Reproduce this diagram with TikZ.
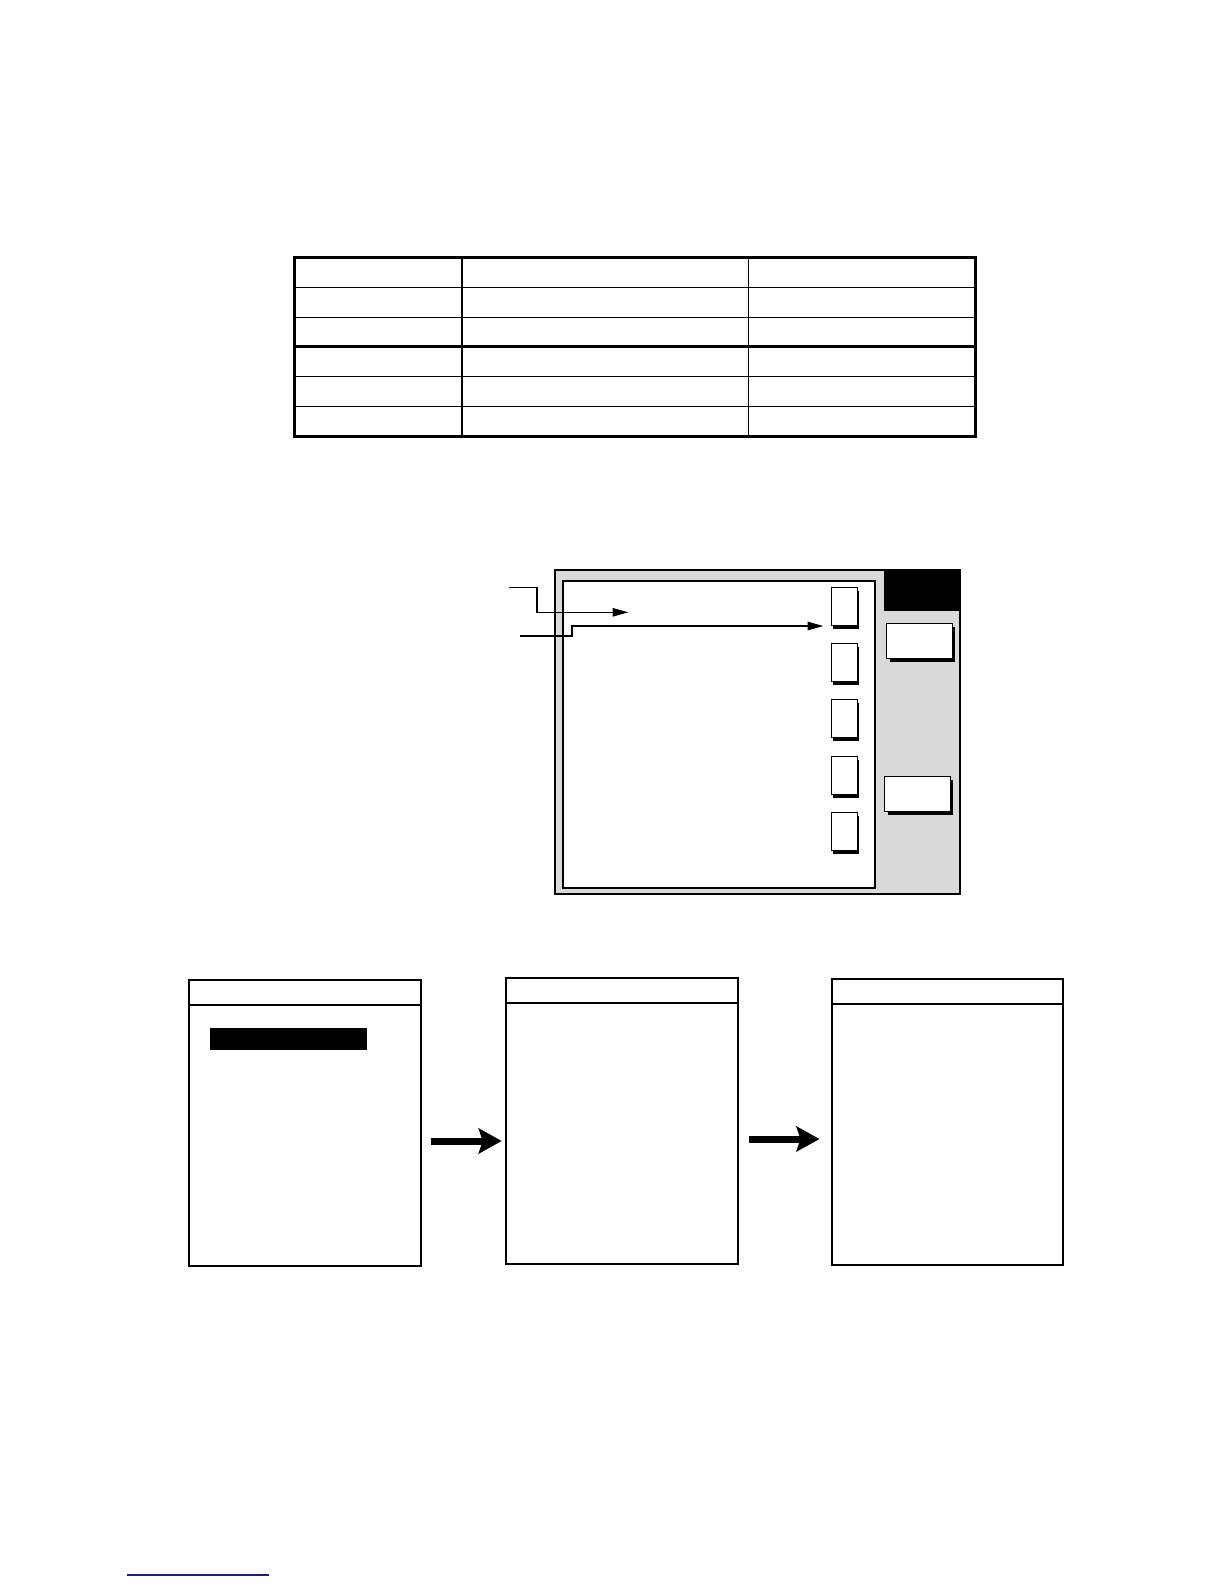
\documentclass[tikz,border=0pt]{standalone}
\usepackage{xcolor}
\usepackage{tikz}
\usetikzlibrary{arrows.meta,positioning,shadows}

\definecolor{panelgray}{gray}{0.85}
\definecolor{linkblue}{RGB}{25,25,135}

\begin{document}
\begin{tikzpicture}[x=0.5bp, y=-0.5bp,
frame/.style={draw, line width=1.5bp},
grid/.style={draw, line width=0.65bp},
plate/.style={draw, anchor=north west, inner sep=0pt},
menu/.style={plate, line width=1bp, fill=white, minimum width=115.75bp, minimum height=143bp},
key/.style={draw, line width=0.5bp, fill=white, inner sep=0pt, minimum width=12.7bp, minimum height=19bp, drop shadow={shadow xshift=0.75bp, shadow yshift=-1.75bp, fill=black, opacity=1}},
softkey/.style={plate, line width=0.5bp, fill=white, minimum width=32.6bp, minimum height=17.3bp, drop shadow={shadow xshift=1.5bp, shadow yshift=-1.75bp, fill=black, opacity=1}},
leader/.style={-{Triangle[length=7.8bp, width=4.2bp]}, line width=0.7bp},
flow/.style={-{Stealth[length=11.5bp, width=12.5bp, inset=2bp]}, line width=3.5bp}
]
\fill[white] (0,0) rectangle (1224,1584);
\useasboundingbox (0,0) rectangle (1224,1584);

% table
\draw[frame] (294,257.5) rectangle (975.5,436);
\foreach \x in {462,748.3} \draw[grid] (\x,257.5) -- (\x,436);
\foreach \y in {287.3,317.3,376.3,406.3} \draw[grid] (294,\y) -- (975.5,\y);
\draw[line width=1.35bp] (294,346.7) -- (975.5,346.7);

% display panel
\node[plate, line width=1.15bp, fill=panelgray, minimum width=202.5bp, minimum height=161.85bp] (panel) at (554,569) {};
\node[plate, line width=0.8bp, fill=white, minimum width=156bp, minimum height=153.65bp] (screen) at (562.3,580) {};
\node[plate, fill=black, minimum width=37.5bp, minimum height=20.5bp] (title) at (884,569) {};
\foreach \i/\y in {1/606.5,2/662.7,3/718,4/775.3,5/831}
  \node[key] (key\i) at (844.5,\y) {};
\node[softkey] (soft1) at (886.3,623.3) {};
\node[softkey] (soft2) at (884.3,776.3) {};

\coordinate (tagA) at (509,587.7);
\coordinate (tipA) at (628.3,612.3);
\coordinate (tagB) at (520,636);
\coordinate (tipB) at (823.3,626);
\draw[leader] (tagA) -- ++(28,0) |- (tipA);
\draw[leader] (tagB) -- ++(52,0) |- (tipB);

% menu sequence
\node[menu] (menu1) at (188.3,978.7) {};
\node[menu] (menu2) at (505,976.7) {};
\node[menu] (menu3) at (830.5,977.7) {};
\foreach \m in {menu1,menu2,menu3}
  \draw[line width=1bp] ([yshift=-13bp]\m.north west) -- ([yshift=-13bp]\m.north east);
\node[plate, fill=black, minimum width=77.85bp, minimum height=10.35bp] (cursor) at (210,1028) {};

\coordinate (go1) at (430.7,1141);
\coordinate (to1) at (501.7,1141);
\coordinate (go2) at (749,1139);
\coordinate (to2) at (819.5,1139);
\draw[flow] (go1) -- (to1);
\draw[flow] (go2) -- (to2);

\draw[linkblue, line width=0.6bp] (126.7,1575) -- (269,1575);
\end{tikzpicture}
\end{document}
